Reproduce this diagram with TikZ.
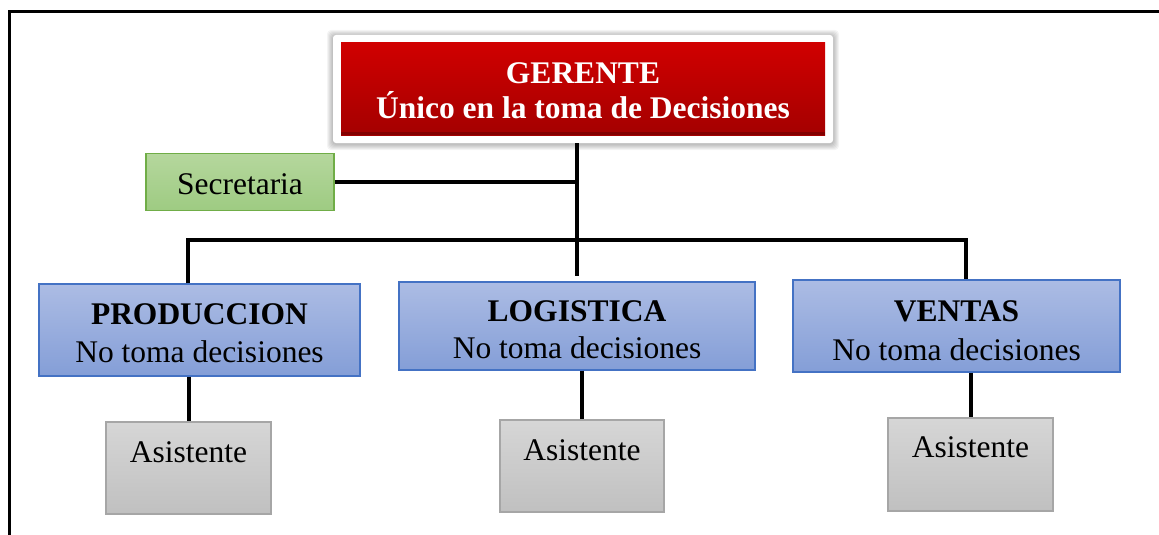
\documentclass[tikz,border=0pt]{standalone}
\usepackage{fontspec}
\setmainfont{Liberation Serif}
\definecolor{redT}{RGB}{212,0,0}
\definecolor{redM}{RGB}{188,0,0}
\definecolor{redB}{RGB}{160,0,0}
\definecolor{redD}{RGB}{130,0,0}
\definecolor{blueT}{RGB}{172,188,228}
\definecolor{blueB}{RGB}{132,158,215}
\definecolor{blueL}{RGB}{68,114,196}
\definecolor{greenT}{RGB}{181,215,157}
\definecolor{greenB}{RGB}{158,203,130}
\definecolor{greenL}{RGB}{112,173,71}
\definecolor{grayT}{RGB}{214,214,214}
\definecolor{grayB}{RGB}{192,192,192}
\definecolor{grayL}{RGB}{166,166,166}
\begin{document}
\begin{tikzpicture}[x=1pt,y=-1pt,
  txt/.style={font=\fontsize{31.5}{38}\selectfont, align=center, inner sep=0pt},
  link/.style={line width=4pt, black},
  gerentebox/.style={txt, font=\bfseries\fontsize{31.5}{35}\selectfont, text=white,
    text height=59pt, text depth=0pt,
    minimum width=500pt, minimum height=108pt, fill=white, rounded corners=3pt,
    path picture={
      \shade[sharp corners, top color=redT, middle color=redM, bottom color=redB]
        ([xshift=8pt,yshift=-8pt]path picture bounding box.north west) rectangle
        ([xshift=-8pt,yshift=8pt]path picture bounding box.south east);
      \draw[sharp corners, redD, line width=3pt]
        ([xshift=8pt,yshift=9.5pt]path picture bounding box.south west) --
        ([xshift=-8pt,yshift=9.5pt]path picture bounding box.south east);
    }},
  secbox/.style={txt, draw=greenL, line width=1.2pt, top color=greenT, bottom color=greenB,
    text height=24pt, text depth=0pt, minimum width=188pt, minimum height=57pt},
  deptbox/.style={txt, draw=blueL, line width=1.2pt, top color=blueT, bottom color=blueB,
    text depth=0pt},
  asisbox/.style={txt, draw=grayL, line width=1.2pt, top color=grayT, bottom color=grayB,
    text height=36pt, text depth=48pt, inner ysep=4pt, minimum width=165pt}
]
\fill[white] (0,0) rectangle (1159,535);
\useasboundingbox (0,0) rectangle (1159,535);
\draw[line width=3pt] (1159,11.5) -- (9.5,11.5) -- (9.5,535);

% shadow of the manager panel
\foreach \i in {1,...,6}
  \fill[black, opacity=0.045, rounded corners=4pt] (333-\i,36-\i) rectangle (833+\i,144+\i);

\node[gerentebox] (gerente) at (583,89) {GERENTE\\Único en la toma de Decisiones};
\node[secbox] (sec) at (240,182) {Secretaria};

\node[deptbox, text height=65pt, minimum width=321pt, minimum height=92pt] (prod) at (199.5,330)
  {\textbf{PRODUCCION}\\No toma decisiones};
\node[deptbox, text height=65pt, minimum width=356pt, minimum height=88pt, font=\fontsize{31.5}{37}\selectfont] (log) at (577,326)
  {\textbf{LOGISTICA}\\No toma decisiones};
\node[deptbox, text height=68pt, minimum width=327pt, minimum height=92pt, font=\fontsize{31.5}{39}\selectfont] (ven) at (956.5,326)
  {\textbf{VENTAS}\\No toma decisiones};

\node[asisbox] (asis1) at (188.5,468) {Asistente};
\node[asisbox, minimum width=164pt] (asis2) at (582,466) {Asistente};
\node[asisbox, text height=35pt, text depth=50pt] (asis3) at (970.5,464.5) {Asistente};

\coordinate (busl) at (188,240);
\coordinate (busr) at (966,240);

\draw[link] (log.north |- gerente.south) -- ([yshift=5pt]log.north);
\draw[link] (sec.east) -- (sec.east -| log.north);
\draw[link] (prod.north -| busl) -- (busl) -- (busr) -- (ven.north -| busr);
\draw[link] (asis1.north |- prod.south) -- (asis1.north);
\draw[link] (asis2.north |- log.south) -- (asis2.north);
\draw[link] (asis3.north |- ven.south) -- (asis3.north);
\end{tikzpicture}
\end{document}
